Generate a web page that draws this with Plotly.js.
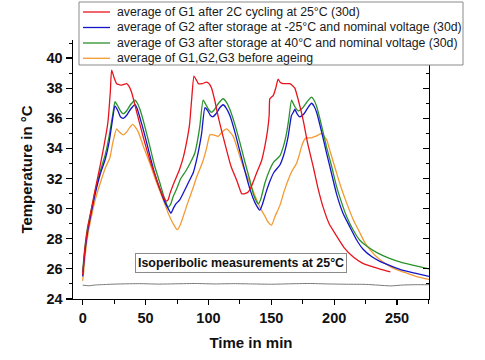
<!DOCTYPE html>
<html>
<head>
<meta charset="utf-8">
<script src="https://cdn.plot.ly/plotly-3.0.1.min.js"></script>
<style>html,body{margin:0;padding:0;background:#fff;}#chart{width:485px;height:360px;}</style>
</head>
<body>
<div id="chart"></div>
<script>
// ---- data ----
const seriesNames = [
  "average of G1 after 2C cycling at 25°C (30d)",
  "average of G2 after storage at -25°C and nominal voltage (30d)",
  "average of G3 after storage at 40°C and nominal voltage (30d)",
  "average of G1,G2,G3 before ageing"
];
const noteText = "Isoperibolic measurements at 25°C";
const xTitle = "Time in min";
const yTitle = "Temperature in °C";

const g1Time = [0,1,2,4,7,10,14,17,20,22,23,25,27,31,35,37,39,43,48,53.5,58,61.4,64,66.7,68,69.4,73,77,80,82.6,85,86.6,88.5,90,92,95,98.5,100.5,102.5,105,107.8,111,114.4,118,122.4,124.5,126.4,129,131.6,134.3,138,142.3,145,147,148.3,148.8,150,151.5,153.5,155.4,157,159.4,162,164.7,166.5,168.7,171.5,175.3,179,183.3,187,191.2,196,201.8,208,215,222,228.3,236,244.7];
const g1Temp = [25.6,26.6,27.5,28.7,30.0,31.3,32.9,34.2,35.7,37.8,39.2,38.7,38.3,38.2,38.3,38.1,37.7,36.4,34.8,33.2,32.1,31.3,30.8,30.5,30.6,31.0,31.8,32.6,33.4,34.4,35.6,37.2,38.8,38.6,38.3,38.3,38.4,38.3,38.0,37.2,36.1,35.0,33.9,32.8,31.9,31.4,31.0,31.0,31.1,31.5,32.3,33.2,34.2,35.2,36.2,37.3,37.4,37.5,38.0,38.6,38.4,38.3,38.3,38.3,38.2,38.0,37.2,35.9,34.3,32.8,31.4,30.1,29.0,28.2,27.4,26.8,26.4,26.2,26.0,25.8];

const g2Time = [0,1,2,4,7,10,14,18,21,23,25.7,28,30,32.3,35,38,41.6,43.5,46,49,53.5,57,61.4,65,68,70.2,72,74,77.3,81,84.5,88,90.5,92.5,94.6,97.2,99.5,101.5,103.3,106,109,111.7,114,117,121,125,129,133,137,140.9,143,145.5,148.8,152,156.8,160,163.4,165,166.1,167.5,168.7,170.5,172.7,176,179,182,184,186,190,193.9,198,201.8,207,212.4,218,223,230,236.3,245,254.8,265,275.4];
const g2Temp = [25.5,26.5,27.3,28.5,29.8,31.0,32.3,33.3,34.4,35.5,36.8,36.5,36.1,36.0,36.2,36.6,36.9,36.6,35.9,35.0,33.5,32.4,31.3,30.5,30.0,29.7,30.0,30.3,30.6,31.2,31.8,32.4,33.2,34.0,35.0,36.7,36.5,36.2,36.1,36.3,36.7,36.9,36.7,36.2,35.1,33.8,32.5,31.3,30.4,29.9,30.3,31.0,31.8,32.4,32.9,33.6,34.8,35.7,36.2,36.4,36.6,36.3,36.1,36.3,36.7,37.0,36.8,36.4,35.1,33.7,32.3,31.0,29.7,28.8,27.9,27.3,26.8,26.5,26.2,25.9,25.7,25.5];

const g3Time = [0,1,2,4,7,10,14,18,21,24,25.7,28,30,32.3,35,38,41.6,43.5,45.5,49,53.5,57,61.4,65,68,70,72,74.7,78,82,85.3,89.2,91.5,93.2,95.8,98,100,102.5,105,108,111.7,114,117,121,125,129,132.9,136,139.6,141.5,144.9,148.8,152,156.8,159.5,162.1,164,166.1,168.5,171.4,175,178.5,182,184,186,190,193.9,198,201.8,205.5,209.8,215,220.4,226,233.6,244,254.8,265,275.4];
const g3Temp = [25.8,26.8,27.6,28.8,30.0,31.2,32.5,33.6,34.8,36.3,37.1,36.8,36.5,36.3,36.5,36.9,37.2,37.0,36.6,35.6,34.1,32.9,31.7,30.7,30.1,30.3,30.8,31.3,32.0,32.5,33.0,33.7,34.6,35.5,37.2,36.9,36.6,36.4,36.6,37.0,37.3,37.1,36.6,35.6,34.4,33.1,31.9,30.9,30.3,30.6,31.7,32.6,33.1,33.5,34.1,35.0,36.0,37.2,36.8,36.5,36.7,37.1,37.4,37.2,36.8,35.5,34.1,32.8,31.5,30.5,29.5,28.6,27.9,27.5,27.1,26.7,26.4,26.2,26.0];

const freshTime = [0,1,2,4,7,10,14,18,21.7,24,27,29,32.3,35,37.5,39.7,42,44.2,48,53.5,58,64,68,72,75.2,77.5,80,84,87.5,90.6,93.5,95.8,98.5,101.2,104,107.8,111,114.4,117,119.7,123,127.6,133,138.3,141.5,144.9,147.5,150.2,153,156.8,160,163.4,166.5,170,172,174,175.8,177.5,180,182,185,187.5,189.9,192,193.9,197.5,201.8,205.5,209.8,215,220.4,224,228.3,235,241.6,248,254.8,265,275.4];
const freshTemp = [25.2,26.0,26.9,28.2,29.5,30.6,31.7,32.7,33.4,34.4,35.3,35.1,34.9,35.1,35.4,35.6,35.4,35.1,34.2,33.0,31.9,30.6,29.7,29.0,28.6,28.9,29.5,30.5,31.3,32.1,32.7,33.2,34.0,34.9,34.9,34.8,35.1,35.3,35.1,34.8,34.0,32.8,31.7,30.6,30.0,29.5,29.1,28.9,29.5,30.2,31.1,31.9,32.5,33.0,33.5,34.1,34.5,34.7,34.7,34.7,34.8,34.9,35.0,34.8,34.6,33.6,32.4,31.4,30.4,29.3,28.4,27.8,27.3,26.7,26.3,26.0,25.8,25.5,25.3];

const ambientTime = [0,5,10,20,30,45,60,75,90,105,120,135,150,165,180,195,210,225,235,245,255,265,275.4];
const ambientTemp = [24.92,24.88,24.93,24.97,25.0,25.02,24.99,25.01,25.03,25.0,25.02,25.0,24.98,25.01,25.03,25.0,24.98,24.97,24.92,24.87,24.93,24.95,24.95];

const xTicks = [0,50,100,150,200,250];
const yTicks = [24,26,28,30,32,34,36,38,40];
const xRange = [-7.7, 275.4];
const yRange = [24, 41.2];

// ---- styles / layout ----
const colors = ["#e8141c", "#1414c8", "#2a922a", "#f59a32"];
const W = 485, H = 360, L = 73, R = 56, T = 40, B = 61;
const pw = W - L - R, ph = H - T - B;
const px2x = p => (p - L) / pw;
const py2y = p => (H - B - p) / ph;
const FONT = "Arial, 'Liberation Sans', sans-serif";

const series = [[g1Time,g1Temp],[g2Time,g2Temp],[g3Time,g3Temp],[freshTime,freshTemp]];
const traces = series.map((s, i) => ({
  x: s[0], y: s[1], type: "scatter", mode: "lines", name: seriesNames[i],
  line: {color: colors[i], width: 1.3, shape: "spline", smoothing: 0.5},
  showlegend: false, hoverinfo: "skip"
}));
traces.push({
  x: ambientTime, y: ambientTemp, type: "scatter", mode: "lines", yaxis: "y2",
  line: {color: "#7a7a7a", width: 1, shape: "spline", smoothing: 0.6},
  showlegend: false, hoverinfo: "skip"
});
const ordered = [traces[4], traces[3], traces[2], traces[1], traces[0]];

// manual compact legend
const shapes = [{
  type: "rect", xref: "paper", yref: "paper", layer: "above",
  x0: px2x(79), x1: px2x(463), y0: py2y(65), y1: py2y(2),
  line: {color: "#8a8a8a", width: 1}, fillcolor: "#ffffff"
}];
const annotations = [];
const rowY = [12, 27.5, 43, 58.3];
seriesNames.forEach((n, i) => {
  shapes.push({type: "line", xref: "paper", yref: "paper", layer: "above",
    x0: px2x(83), x1: px2x(110), y0: py2y(rowY[i]), y1: py2y(rowY[i]),
    line: {color: colors[i], width: 1.3}});
  annotations.push({xref: "paper", yref: "paper", x: px2x(115), y: py2y(rowY[i]),
    xanchor: "left", yanchor: "middle", showarrow: false, text: n,
    font: {family: FONT, size: 12.3, color: "#1a1a1a"}});
});
annotations.push({
  xref: "x", yref: "y", x: 125.6, y: 26.4, showarrow: false, text: noteText,
  font: {family: FONT, size: 12.4, color: "#111", weight: "bold"},
  bgcolor: "#ffffff", bordercolor: "#8a8a8a", borderwidth: 1, borderpad: 2
});

const axisCommon = {
  showgrid: false, zeroline: false, showline: true, linecolor: "#000", linewidth: 1.4,
  tickcolor: "#000", tickwidth: 1.2,
  tickfont: {family: FONT, size: 14.5, color: "#111", weight: "bold"}
};

const layout = {
  width: W, height: H,
  margin: {l: L, r: R, t: T, b: B, pad: 0},
  paper_bgcolor: "#fff", plot_bgcolor: "#fff",
  showlegend: false,
  xaxis: Object.assign({}, axisCommon, {
    range: xRange, tickmode: "array", tickvals: xTicks, ticks: "outside", ticklen: 5,
    minor: {dtick: 25, tick0: 0, ticks: "outside", ticklen: 4, tickcolor: "#000", tickwidth: 1},
    title: {text: xTitle, standoff: 12, font: {family: FONT, size: 15, color: "#111", weight: "bold"}}
  }),
  yaxis: Object.assign({}, axisCommon, {
    range: yRange, tickmode: "array", tickvals: yTicks, ticks: "outside", ticklen: 6,
    minor: {dtick: 1, tick0: 0, ticks: "outside", ticklen: 3, tickcolor: "#000", tickwidth: 1},
    title: {text: yTitle, standoff: 10, font: {family: FONT, size: 15, color: "#111", weight: "bold"}}
  }),
  yaxis2: Object.assign({}, axisCommon, {
    range: yRange, overlaying: "y", side: "right", anchor: "x",
    tickmode: "array", tickvals: yTicks, ticks: "inside", ticklen: 6, showticklabels: false,
    minor: {dtick: 1, tick0: 0, ticks: "inside", ticklen: 3, tickcolor: "#000", tickwidth: 1}
  }),
  shapes: shapes,
  annotations: annotations
};

Plotly.newPlot("chart", ordered, layout, {staticPlot: true, displayModeBar: false});
</script>
</body>
</html>
